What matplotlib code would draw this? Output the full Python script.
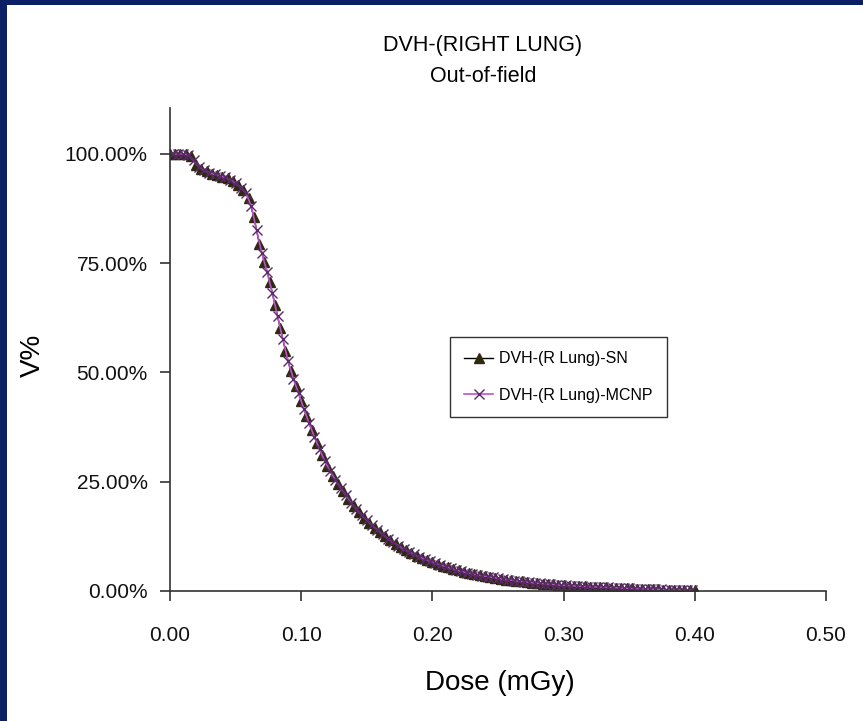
import numpy as np
import matplotlib.pyplot as plt
from matplotlib.patches import Rectangle
from matplotlib.ticker import FuncFormatter

plt.rcParams['font.family'] = ['Liberation Sans', 'DejaVu Sans']

# DVH data (dose in mGy, volume in %)
dose_step = 0.004
v_sn = [100, 100, 100, 100, 99.5, 97.5, 96.6, 96.0, 95.5, 95.1,
        94.8, 94.4, 93.7, 92.8, 91.8, 89.8, 85.5, 79.5, 75.3, 70.8,
        65.5, 60.2, 55.0, 50.3, 47.0, 43.5, 40.0, 36.8, 33.8, 31.0,
        28.5, 26.3, 24.5, 22.8, 21.0, 19.5, 18.0, 16.8, 15.6, 14.5,
        13.5, 12.5, 11.6, 10.8, 10.0, 9.3, 8.7, 8.1, 7.6, 7.1,
        6.6, 6.2, 5.8, 5.4, 5.0, 4.7, 4.4, 4.1, 3.9, 3.6,
        3.4, 3.2, 3.0, 2.8, 2.6, 2.5, 2.3, 2.2, 2.1, 1.9,
        1.8, 1.7, 1.6, 1.5, 1.4, 1.3, 1.25, 1.2, 1.1, 1.05,
        1.0, 0.95, 0.9, 0.85, 0.8, 0.75, 0.7, 0.65, 0.6, 0.55,
        0.5, 0.45, 0.42, 0.38, 0.34, 0.3, 0.27, 0.24, 0.2, 0.17, 0.15]
v_mcnp = [100, 100, 100, 99.8, 98.5, 97.0, 96.3, 95.7, 95.3, 95.0,
          94.6, 94.1, 93.3, 92.3, 91.0, 88.0, 82.5, 77.3, 73.0, 68.2,
          62.8, 57.6, 52.6, 48.6, 45.2, 41.7, 38.4, 35.3, 32.4, 29.7,
          27.4, 25.4, 23.6, 21.9, 20.2, 18.7, 17.4, 16.2, 15.0, 14.0,
          13.0, 12.0, 11.2, 10.4, 9.6, 9.0, 8.4, 7.8, 7.3, 6.8,
          6.4, 6.0, 5.6, 5.2, 4.8, 4.5, 4.2, 4.0, 3.7, 3.5,
          3.3, 3.1, 2.9, 2.7, 2.55, 2.4, 2.25, 2.15, 2.0, 1.85,
          1.75, 1.65, 1.55, 1.45, 1.35, 1.3, 1.2, 1.15, 1.1, 1.0,
          0.97, 0.92, 0.87, 0.82, 0.77, 0.72, 0.67, 0.62, 0.57, 0.52,
          0.48, 0.44, 0.4, 0.36, 0.32, 0.28, 0.25, 0.22, 0.18, 0.16]

dose_sn = np.arange(len(v_sn)) * dose_step
dose_mcnp = np.arange(len(v_mcnp)) * dose_step + dose_step / 2

x_ticks = [0.0, 0.1, 0.2, 0.3, 0.4, 0.5]
y_ticks = [0, 25, 50, 75, 100]

fig = plt.figure(figsize=(8.63, 7.21), dpi=100, facecolor='#0c1f66')
# white slide panel, behind the axes
fig.patches.append(Rectangle((7 / 863, 0), 1, 1 - 5 / 721, transform=fig.transFigure,
                             facecolor='white', edgecolor='none', zorder=-10))

ax = fig.add_axes([170 / 863, 1 - 591 / 721, (826 - 170) / 863, (591 - 108) / 721])
ax.set_facecolor('white')

ax.plot(dose_sn, v_sn, color='black', lw=1, marker='^', ms=7,
        mfc='#2e2a10', mec='#2e2a10', label='DVH-(R Lung)-SN')
ax.plot(dose_mcnp, v_mcnp, color='#c050c8', lw=1.2, marker='x', ms=7,
        mec='#5a2a6a', mew=1, label='DVH-(R Lung)-MCNP')

ax.set_xlim(0, 0.5)
ax.set_ylim(0, 110.5)
ax.set_xticks(x_ticks)
ax.set_yticks(y_ticks)
ax.xaxis.set_major_formatter(FuncFormatter(lambda v, p: f'{v:.2f}'))
ax.yaxis.set_major_formatter(FuncFormatter(lambda v, p: f'{v:.2f}%'))

for side in ['top', 'right']:
    ax.spines[side].set_visible(False)
for side in ['left', 'bottom']:
    ax.spines[side].set_color('#333333')
    ax.spines[side].set_linewidth(1.2)
ax.tick_params(direction='out', length=7, width=1.2, color='#333333',
               labelsize=15, labelcolor='#111111')
ax.tick_params(axis='x', pad=18)
ax.tick_params(axis='y', pad=9)

fig.text(483 / 863, 1 - 45 / 721, 'DVH-(RIGHT LUNG)', ha='center', va='center', fontsize=15.5)
fig.text(483 / 863, 1 - 77 / 721, 'Out-of-field', ha='center', va='center', fontsize=15.5)
fig.text(500 / 863, 1 - 683 / 721, 'Dose (mGy)', ha='center', va='center', fontsize=20)
fig.text(33 / 863, 1 - 355 / 721, 'V%', ha='center', va='center', rotation=90, fontsize=20)

leg = ax.legend(loc='upper left', bbox_to_anchor=((450 - 170) / 656, (591 - 337) / 483),
                fontsize=11.5, frameon=True, fancybox=False, handlelength=1.8,
                borderpad=0.9, labelspacing=1.35, handletextpad=0.35, borderaxespad=0)
leg.get_frame().set_edgecolor('black')
leg.get_frame().set_linewidth(1)

fig.savefig('out.png', dpi=100, facecolor=fig.get_facecolor())
